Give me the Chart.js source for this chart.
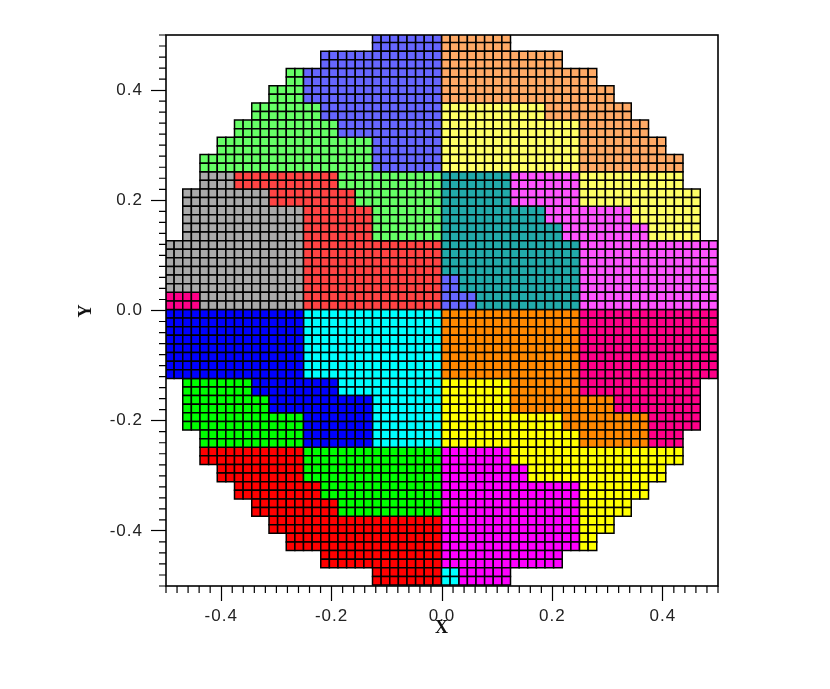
<!DOCTYPE html>
<html><head><meta charset="utf-8">
<style>html,body{margin:0;padding:0;background:#fff}canvas{display:block;filter:blur(0.4px)}</style>
<script src="https://cdn.jsdelivr.net/npm/chart.js@4/dist/chart.umd.min.js"></script>
</head><body>
<canvas id="c" width="830" height="689"></canvas>
<script>
const xTickLabels = ['-0.4','-0.2','0.0','0.2','0.4'];
const yTickLabels = ['-0.4','-0.2','0.0','0.2','0.4'];
const xTitle = 'X';
const yTitle = 'Y';
const gridCount = 64;
const regionKeys = 'BOLGRATPKbcoygrm'.split('');
const regionColors = ['#6666ff','#ffaa66','#ffff66','#66ff66','#ff4444','#aaaaaa','#22aaaa','#ff55ff','#ff0088','#0000ff','#00ffff','#ff8800','#ffff00','#00ff00','#ff0000','#ff00ff'];
// each entry covers two grid rows, top to bottom: startColumn+region ... endColumn
const rowPairs = [
 '24B 32O 40',
 '18B 32O 46',
 '14G 16B 32O 50',
 '12G 16B 32O 52',
 '10G 18B 32L 44O 54',
 '8G 20B 32L 48O 56',
 '6G 24B 32L 48O 58',
 '4G 24B 32L 48O 60',
 '4A 8R 20G 32T 40P 48L 60',
 '2A 12R 22G 32T 40P 48L 62',
 '2A 16R 24G 32T 44P 54L 62',
 '2A 16R 24G 32T 46P 56L 62',
 '0A 16R 32T 48P 64',
 '0A 16R 32T 48P 64',
 '0A 16R 32B 34T 48P 64',
 '0K 4A 16R 32B 36T 48P 64',
 '0b 16c 32o 48K 64',
 '0b 16c 32o 48K 64',
 '0b 16c 32o 48K 64',
 '0b 16c 32o 48K 64',
 '2g 10b 20c 32y 40o 48K 62',
 '2g 12b 24c 32y 40o 52K 62',
 '2g 16b 24c 32y 46o 56K 62',
 '4g 16b 24c 32y 48o 56K 60',
 '4r 16g 32m 40y 60',
 '6r 16g 32m 42y 58',
 '8r 18g 32m 48y 56',
 '10r 20g 32m 48y 54',
 '12r 32m 48y 52',
 '14r 32m 48y 50',
 '18r 32m 46',
 '24r 32c 34m 40'
];
const cells = regionKeys.map(() => []);
rowPairs.forEach((line, pair) => {
  const parts = line.split(' ');
  for (let i = 0; i < parts.length - 1; i++) {
    const start = parseInt(parts[i]);
    const key = parts[i].replace(/[0-9]/g, '');
    const end = parseInt(parts[i + 1]);
    const idx = regionKeys.indexOf(key);
    for (let row = pair * 2; row < pair * 2 + 2; row++) {
      for (let col = start; col < end; col++) {
        cells[idx].push({ x: -0.5 + (col + 0.5) / gridCount - 0.0009, y: 0.5 - (row + 0.5) / gridCount + 0.0018 });
      }
    }
  }
});
function isMajor(v){ return Math.abs(v * 5 - Math.round(v * 5)) < 1e-6; }
function labelFor(list){ return v => { const s = (Math.abs(v) < 1e-6 ? 0 : v).toFixed(1); return isMajor(v) && list.includes(s) ? s : ''; }; }
const tickFont = { family: '"Liberation Sans"', size: 17 };
const titleFont = { family: '"Liberation Serif"', size: 18, weight: 'bold' };
const frame = {
  id: 'frame',
  beforeDraw(chart) { chart.ctx.letterSpacing = '1px'; },
  afterDraw(chart) {
    const { ctx, chartArea: a, scales } = chart;
    ctx.save();
    ctx.strokeStyle = '#000';
    ctx.lineWidth = 1.6;
    ctx.strokeRect(a.left, a.top, a.right - a.left, a.bottom - a.top);
    ctx.beginPath();
    scales.x.ticks.forEach((t, i) => { if (!isMajor(t.value)) { const p = scales.x.getPixelForTick(i); ctx.moveTo(p, a.bottom); ctx.lineTo(p, a.bottom + 7); } });
    scales.y.ticks.forEach((t, i) => { if (!isMajor(t.value)) { const p = scales.y.getPixelForTick(i); ctx.moveTo(a.left, p); ctx.lineTo(a.left - 7, p); } });
    ctx.lineWidth = 1.2;
    ctx.stroke();
    ctx.restore();
  }
};
const axisGrid = { drawOnChartArea: false, tickLength: 15, tickWidth: 1.2, tickColor: c => isMajor(c.tick.value) ? '#000' : 'rgba(0,0,0,0)' };
new Chart(document.getElementById('c'), {
  type: 'scatter',
  data: { datasets: regionKeys.map((k, i) => ({
    label: k, data: cells[i], pointStyle: 'rect', backgroundColor: regionColors[i], borderColor: '#000', borderWidth: 1.5,
    pointRadius: c => c.chart.chartArea ? (c.chart.chartArea.right - c.chart.chartArea.left) / gridCount / Math.SQRT2 : 6
  })) },
  plugins: [frame],
  options: {
    responsive: false, animation: false,
    layout: { padding: { left: 0, right: 112, top: 35, bottom: 40 } },
    plugins: { legend: { display: false }, tooltip: { enabled: false } },
    scales: {
      x: { type: 'linear', min: -0.5, max: 0.5,
        afterFit: s => { s.height = 63; },
        border: { display: false }, grid: axisGrid,
        ticks: { stepSize: 0.02, autoSkip: false, maxRotation: 0, minRotation: 0, padding: 5, color: '#222', font: tickFont, callback: labelFor(xTickLabels) },
        title: { display: true, text: xTitle, color: '#111', font: titleFont, padding: { top: 0, bottom: 10 } } },
      y: { type: 'linear', min: -0.5, max: 0.5,
        afterFit: s => { s.width = 166; },
        border: { display: false }, grid: axisGrid,
        ticks: { stepSize: 0.02, autoSkip: false, padding: 8, color: '#222', font: tickFont, callback: labelFor(yTickLabels) },
        title: { display: true, text: yTitle, color: '#111', font: titleFont, padding: { top: 76, bottom: 0 } } }
    }
  }
});
</script>
</body></html>
